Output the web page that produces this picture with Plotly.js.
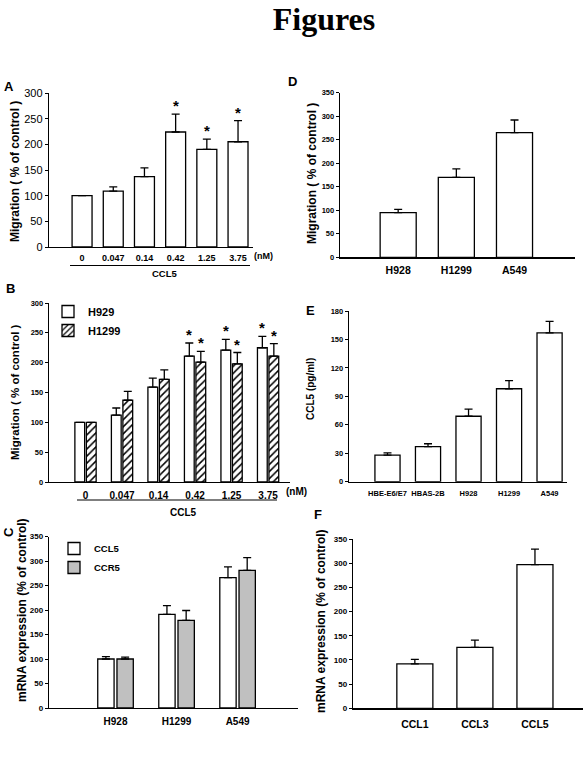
<!DOCTYPE html>
<html>
<head>
<meta charset="utf-8">
<script src="https://cdn.plot.ly/plotly-3.0.1.min.js"></script>
<style>html,body{margin:0;padding:0;background:#fff;}#chart{width:588px;height:769px;}</style>
</head>
<body>
<div id="chart"></div>
<script>
// ---------- DATA ----------
const catsA = ['0', '0.047', '0.14', '0.42', '1.25', '3.75'];
const valsA = [100, 109, 137, 224, 190, 205];
const errA  = [0, 8, 17, 35, 20, 41];
const sigA  = [false, false, false, true, true, true];

const catsB = ['0', '0.047', '0.14', '0.42', '1.25', '3.75'];
const seriesB = ['H929', 'H1299'];
const valsB1 = [100, 112, 159, 211, 221, 225];
const errB1  = [0, 12, 15, 22, 18, 19];
const sigB1  = [false, false, false, true, true, true];
const valsB2 = [100, 137, 172, 201, 198, 211];
const errB2  = [0, 15, 16, 18, 19, 21];
const sigB2  = [false, false, false, true, true, true];

const catsC = ['H928', 'H1299', 'A549'];
const seriesC = ['CCL5', 'CCR5'];
const valsC1 = [100, 191, 266];
const errC1  = [5, 18, 22];
const valsC2 = [100, 179, 281];
const errC2  = [4, 20, 26];

const catsD = ['H928', 'H1299', 'A549'];
const valsD = [95, 170, 265];
const errD  = [7, 18, 27];

const catsE = ['HBE-E6/E7', 'HBAS-2B', 'H928', 'H1299', 'A549'];
const valsE = [28, 37, 69, 98, 157];
const errE  = [2.5, 3, 7.5, 8.5, 12];

const catsF = ['CCL1', 'CCL3', 'CCL5'];
const valsF = [92, 126, 297];
const errF  = [9, 15, 32];

// ---------- LAYOUT HELPERS ----------
const W = 588, H = 769;
const px = v => v / W;
const py = v => 1 - v / H;
const FONT = 'Liberation Sans, Arial, sans-serif';
const zeros = n => new Array(n).fill(0);

function errBar(arr) {
  return {type: 'data', array: arr, arrayminus: zeros(arr.length), symmetric: false,
          color: '#000', thickness: 1.3, width: 4, visible: true};
}
function barTrace(x, y, err, xa, ya, extra) {
  return Object.assign({
    type: 'bar', x: x, y: y, xaxis: xa, yaxis: ya,
    marker: {color: '#fff', line: {color: '#000', width: 1.3}},
    error_y: errBar(err), showlegend: false, hoverinfo: 'none'
  }, extra || {});
}

const traces = [
  barTrace(catsA, valsA, errA, 'x', 'y', {width: 0.64}),
  barTrace(catsB, valsB1, errB1, 'x2', 'y2', {name: seriesB[0], showlegend: true, legend: 'legend'}),
  barTrace(catsB, valsB2, errB2, 'x2', 'y2', {name: seriesB[1], showlegend: true, legend: 'legend',
    marker: {color: '#fff', line: {color: '#000', width: 1.3},
             pattern: {shape: '/', fgcolor: '#000', bgcolor: '#fff', size: 5, solidity: 0.3}}}),
  barTrace(catsC, valsC1, errC1, 'x3', 'y3', {name: seriesC[0], showlegend: true, legend: 'legend2'}),
  barTrace(catsC, valsC2, errC2, 'x3', 'y3', {name: seriesC[1], showlegend: true, legend: 'legend2',
    marker: {color: '#c0c0c0', line: {color: '#000', width: 1.3}}}),
  barTrace(catsD, valsD, errD, 'x4', 'y4', {width: 0.62}),
  barTrace(catsE, valsE, errE, 'x5', 'y5', {width: 0.62}),
  barTrace(catsF, valsF, errF, 'x6', 'y6', {width: 0.6})
];

function xAxis(l, r, range, fs, anchor, standoff) {
  return {domain: [px(l), px(r)], type: 'category', range: range, anchor: anchor,
          showline: true, linecolor: '#000', linewidth: 1.3, ticks: '', showgrid: false,
          zeroline: false, fixedrange: true, ticklabelstandoff: standoff || 0,
          tickfont: {family: FONT, size: fs, color: '#000', weight: 'bold'}};
}
function yAxis(bottom, top, range, dtick, fs, bold, anchor) {
  return {domain: [py(bottom), py(top)], range: range, dtick: dtick, anchor: anchor,
          showline: true, linecolor: '#000', linewidth: 1.3, ticks: 'outside', ticklen: 3,
          tickwidth: 1, tickcolor: '#000', showgrid: false, zeroline: false, fixedrange: true,
          tickfont: {family: FONT, size: fs, color: '#000', weight: bold ? 'bold' : 'normal'}};
}

const ann = [];
function text(x, y, t, size, opts) {
  ann.push(Object.assign({xref: 'paper', yref: 'paper', x: px(x), y: py(y), text: t,
    showarrow: false, xanchor: 'center', yanchor: 'middle',
    font: {family: FONT, size: size, color: '#000', weight: 'bold'}}, opts || {}));
}
// panel letters
text(9, 87, 'A', 13);
text(10, 289, 'B', 13);
text(8, 532, 'C', 13, {textangle: -90});
text(292, 82, 'D', 13);
text(310, 310, 'E', 13);
text(318, 514, 'F', 13);
// y titles
text(15, 172, 'Migration ( % of control )', 12, {textangle: -90});
text(15, 392, 'Migration ( % of control )', 11.5, {textangle: -90});
text(22, 610, 'mRNA expression (% of control)', 12, {textangle: -90});
text(312, 174, 'Migration ( % of control )', 12, {textangle: -90});
text(311, 389, 'CCL5 (pg/ml)', 10, {textangle: -90});
text(321, 621, 'mRNA expression (% of control)', 12, {textangle: -90});
// units and group labels
text(263, 256, '(nM)', 9);
text(164.5, 273, 'CCL5', 9.5);
text(297, 491, '(nM)', 10);
text(183.5, 512, 'CCL5', 10);

// significance stars (x given as category index)
function stars(vals, errs, sig, xa, ya, shift) {
  vals.forEach((v, i) => {
    if (sig[i]) ann.push({xref: xa, yref: ya, x: i, y: v + errs[i], text: '*',
      showarrow: false, xanchor: 'center', yanchor: 'bottom', xshift: shift || 0, yshift: -2,
      font: {family: FONT, size: 15, color: '#000', weight: 'bold'}});
  });
}
stars(valsA, errA, sigA, 'x', 'y', 0);
stars(valsB1, errB1, sigB1, 'x2', 'y2', -5.75);
stars(valsB2, errB2, sigB2, 'x2', 'y2', 5.75);

const shapes = [
  {type: 'line', xref: 'paper', yref: 'paper', x0: px(70), x1: px(250), y0: py(265.5), y1: py(265.5),
   line: {color: '#000', width: 1.2}},
  {type: 'line', xref: 'paper', yref: 'paper', x0: px(77), x1: px(277), y0: py(500), y1: py(500),
   line: {color: '#000', width: 1.2}}
];

const layout = {
  width: W, height: H, margin: {l: 0, r: 0, t: 0, b: 0},
  paper_bgcolor: '#fff', plot_bgcolor: 'rgba(0,0,0,0)',
  font: {family: FONT, color: '#000'},
  barmode: 'group', bargap: 0.37, bargroupgap: 0.15,
  title: {text: 'Figures', x: 324 / W, y: 1 - 19 / H, xanchor: 'center', yanchor: 'middle',
          font: {family: 'Liberation Serif, Times New Roman, serif', size: 32, weight: 'bold', color: '#000'}},
  xaxis:  xAxis(49, 253, [-1.06, 5.48], 9, 'y', 2),
  yaxis:  yAxis(247, 93, [0, 300], 50, 11, false, 'x'),
  xaxis2: xAxis(49, 290, [-1.0, 5.6], 10, 'y2', 4),
  yaxis2: yAxis(482, 303, [0, 300], 50, 7.5, true, 'x2'),
  xaxis3: xAxis(49, 298, [-1.09, 2.99], 10, 'y3', 4),
  yaxis3: yAxis(708, 536.5, [0, 350], 50, 8, true, 'x3'),
  xaxis4: xAxis(340, 575, [-1.0, 3.04], 10.5, 'y4', 3),
  yaxis4: yAxis(257.3, 92.7, [0, 350], 50, 7.5, true, 'x4'),
  xaxis5: xAxis(349, 567, [-0.95, 4.43], 7.5, 'y5', 4),
  yaxis5: yAxis(481.7, 311, [0, 180], 30, 7.5, true, 'x5'),
  xaxis6: xAxis(353, 583, [-1.03, 2.8], 10.5, 'y6', 6),
  yaxis6: yAxis(708.3, 539, [0, 350], 50, 8, true, 'x6'),
  legend: {x: px(48), y: py(297), xanchor: 'left', yanchor: 'top', bgcolor: 'rgba(0,0,0,0)',
           font: {family: FONT, size: 11, color: '#000', weight: 'bold'}, tracegroupgap: 0, traceorder: 'normal'},
  legend2: {x: px(54), y: py(534), xanchor: 'left', yanchor: 'top', bgcolor: 'rgba(0,0,0,0)',
           font: {family: FONT, size: 9.5, color: '#000', weight: 'bold'}, tracegroupgap: 0, traceorder: 'normal'},
  annotations: ann, shapes: shapes, showlegend: true
};

Plotly.newPlot('chart', traces, layout, {displayModeBar: false, staticPlot: true});
</script>
</body>
</html>
